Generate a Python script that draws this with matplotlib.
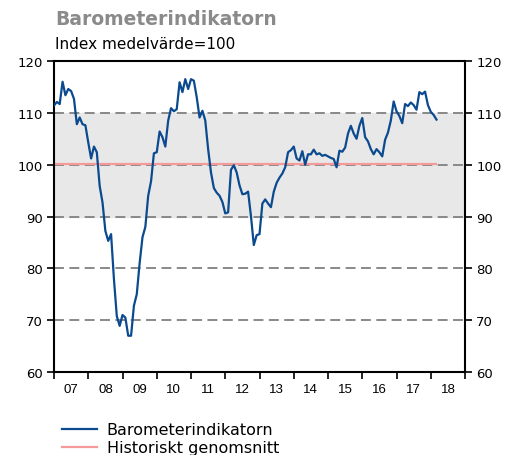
import matplotlib.pyplot as plt
import numpy as np

# monthly index values, Jan 2007 - Mar 2018
y2007 = [111.4, 112.1, 111.7, 116.0, 113.4, 114.6, 114.2, 112.7, 107.8, 109.1, 107.8, 107.6]
y2008 = [104.3, 101.2, 103.5, 102.4, 95.9, 92.7, 87.2, 85.3, 86.6, 77.9, 70.8, 68.9]
y2009 = [71.0, 70.5, 67.0, 67.0, 72.8, 75.0, 81.0, 86.0, 88.0, 94.0, 96.8, 102.2]
y2010 = [102.4, 106.4, 105.3, 103.5, 108.5, 110.9, 110.3, 110.7, 115.9, 114.0, 116.5, 114.6]
y2011 = [116.5, 116.2, 113.0, 109.1, 110.4, 108.5, 103.0, 98.5, 95.5, 94.6, 94.0, 92.8]
y2012 = [90.6, 90.8, 99.0, 99.9, 98.5, 96.0, 94.3, 94.4, 94.8, 90.1, 84.5, 86.4]
y2013 = [86.6, 92.5, 93.3, 92.5, 91.8, 94.8, 96.5, 97.5, 98.3, 99.5, 102.4, 102.8]
y2014 = [103.5, 101.2, 100.8, 102.6, 100.0, 102.0, 102.0, 102.9, 102.0, 102.2, 101.7, 101.9]
y2015 = [101.6, 101.3, 101.1, 99.5, 102.7, 102.5, 103.3, 106.0, 107.5, 106.0, 105.0, 107.5]
y2016 = [109.0, 105.3, 104.5, 103.0, 102.0, 103.0, 102.4, 101.6, 104.8, 106.2, 108.5, 112.2]
y2017 = [110.3, 109.4, 108.0, 111.7, 111.3, 112.0, 111.5, 110.6, 114.0, 113.6, 114.1, 111.5]
y2018 = [110.2, 109.6, 108.7]

barometer = y2007 + y2008 + y2009 + y2010 + y2011 + y2012 + y2013 + y2014 + y2015 + y2016 + y2017 + y2018
hist_avg = 100.2
years = list(range(2007, 2019))
year_labels = ["07", "08", "09", "10", "11", "12", "13", "14", "15", "16", "17", "18"]

x = 2007 + np.arange(len(barometer)) / 12.0

fig = plt.figure(figsize=(5.08, 4.56), dpi=100)
ax = fig.add_axes([0.1063, 0.182, 0.8091, 0.682])

ax.axhspan(90, 110, color="#e8e8e8", zorder=0)
for lvl in [70, 80, 90, 100, 110]:
    ax.axhline(lvl, color="#808080", lw=1.3, dashes=(5.5, 3), zorder=1)

avg_line, = ax.plot([x[0], x[-1]], [hist_avg, hist_avg], color="#f59a9a", lw=1.6, zorder=2)
baro_line, = ax.plot(x, barometer, color="#0b4a8f", lw=1.6, zorder=3)

ax.set_xlim(2007, 2019)
ax.set_ylim(60, 120)
ax.set_yticks([60, 70, 80, 90, 100, 110, 120])
ax.set_xticks(years + [2019])
ax.set_xticklabels([])
ax.set_xticks([yr + 0.5 for yr in years], minor=True)
ax.set_xticklabels(year_labels, minor=True, fontfamily="Liberation Sans", fontsize=9.5)
ax.tick_params(axis="x", which="major", length=5, width=1.2, direction="out")
ax.tick_params(axis="x", which="minor", length=0, pad=8)
ax.tick_params(axis="y", length=5, width=1.2, labelsize=9.5, right=True, labelright=True, pad=3)

for s in ax.spines.values():
    s.set_linewidth(1.5)
    s.set_color("black")

fig.text(0.108, 0.957, "Barometerindikatorn", fontsize=13.5, fontweight="bold",
         color="#8a8a8a", va="center", ha="left")
fig.text(0.108, 0.903, "Index medelvärde=100", fontsize=11, color="black",
         va="center", ha="left")

fig.legend([baro_line, avg_line], ["Barometerindikatorn", "Historiskt genomsnitt"],
           loc="upper left", bbox_to_anchor=(0.122, 0.072), frameon=False,
           fontsize=11.5, handlelength=2.2, handletextpad=0.6, labelspacing=0.2,
           borderaxespad=0, borderpad=0)

fig.savefig("out.png", dpi=100)
